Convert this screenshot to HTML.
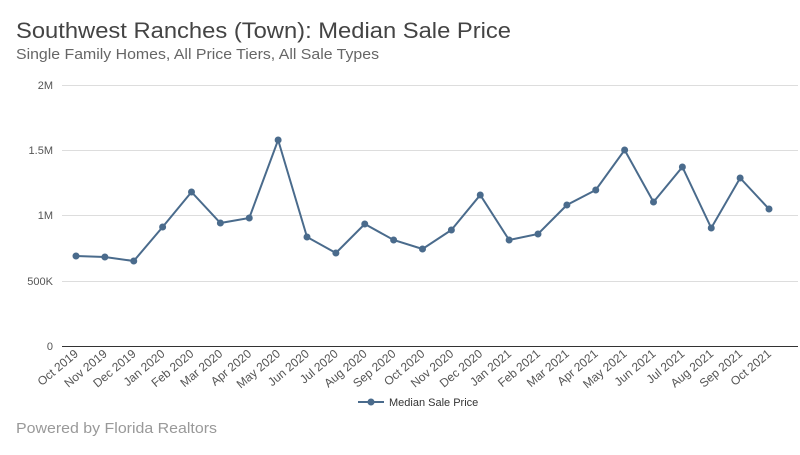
<!DOCTYPE html>
<html><head><meta charset="utf-8"><style>
body{margin:0;background:#fff;width:800px;height:450px;overflow:hidden;font-family:"Liberation Sans",sans-serif}
</style></head><body>
<svg width="800" height="450" xmlns="http://www.w3.org/2000/svg" font-family="Liberation Sans, sans-serif">
<text x="16" y="38" font-size="22" fill="#444" textLength="495" lengthAdjust="spacingAndGlyphs">Southwest Ranches (Town): Median Sale Price</text>
<text x="16" y="59" font-size="15" fill="#666" textLength="363" lengthAdjust="spacingAndGlyphs">Single Family Homes, All Price Tiers, All Sale Types</text>
<g stroke="#ddd" stroke-width="1">
<line x1="62" y1="85.5" x2="798" y2="85.5"/>
<line x1="62" y1="150.5" x2="798" y2="150.5"/>
<line x1="62" y1="215.5" x2="798" y2="215.5"/>
<line x1="62" y1="281.5" x2="798" y2="281.5"/>
</g>
<line x1="62" y1="346.5" x2="798" y2="346.5" stroke="#333"/>
<g font-size="11" fill="#555" text-anchor="end">
<text x="53" y="89">2M</text><text x="53" y="154">1.5M</text><text x="53" y="219">1M</text><text x="53" y="285">500K</text><text x="53" y="350">0</text>
</g>
<g id="pts"></g>
<g font-size="12" fill="#555" text-anchor="end" id="lbl"></g>
<line x1="358" y1="402" x2="384" y2="402" stroke="#4a6b8c" stroke-width="2"/>
<circle cx="371" cy="402" r="3.5" fill="#4a6b8c"/>
<text x="389" y="406" font-size="11" fill="#333">Median Sale Price</text>
<text x="16" y="433" font-size="15" fill="#999" textLength="201" lengthAdjust="spacingAndGlyphs">Powered by Florida Realtors</text>
<script>
var ys=[256,257,261,227,192,223,218,140,237,253,224,240,249,230,195,240,234,205,190,150,202,167,228,178,209];
var m=["Oct","Nov","Dec","Jan","Feb","Mar","Apr","May","Jun","Jul","Aug","Sep"];
var ns="http://www.w3.org/2000/svg",g=document.getElementById("pts"),l=document.getElementById("lbl");
var d="";
ys.forEach(function(y,i){var x=76+i*28.875;d+=(i?"L":"M")+x+","+y;
var c=document.createElementNS(ns,"circle");c.setAttribute("cx",x);c.setAttribute("cy",y);c.setAttribute("r",3.5);c.setAttribute("fill","#4a6b8c");g.appendChild(c);
var mi=i%12,yr=2019+Math.floor((i+9)/12);
var t=document.createElementNS(ns,"text");t.setAttribute("transform","translate("+(x+3)+",355) rotate(-40)");t.textContent=m[mi]+" "+yr;l.appendChild(t);});
var p=document.createElementNS(ns,"path");p.setAttribute("d",d);p.setAttribute("fill","none");p.setAttribute("stroke","#4a6b8c");p.setAttribute("stroke-width","2");g.insertBefore(p,g.firstChild);
</script>
</svg>
</body></html>
